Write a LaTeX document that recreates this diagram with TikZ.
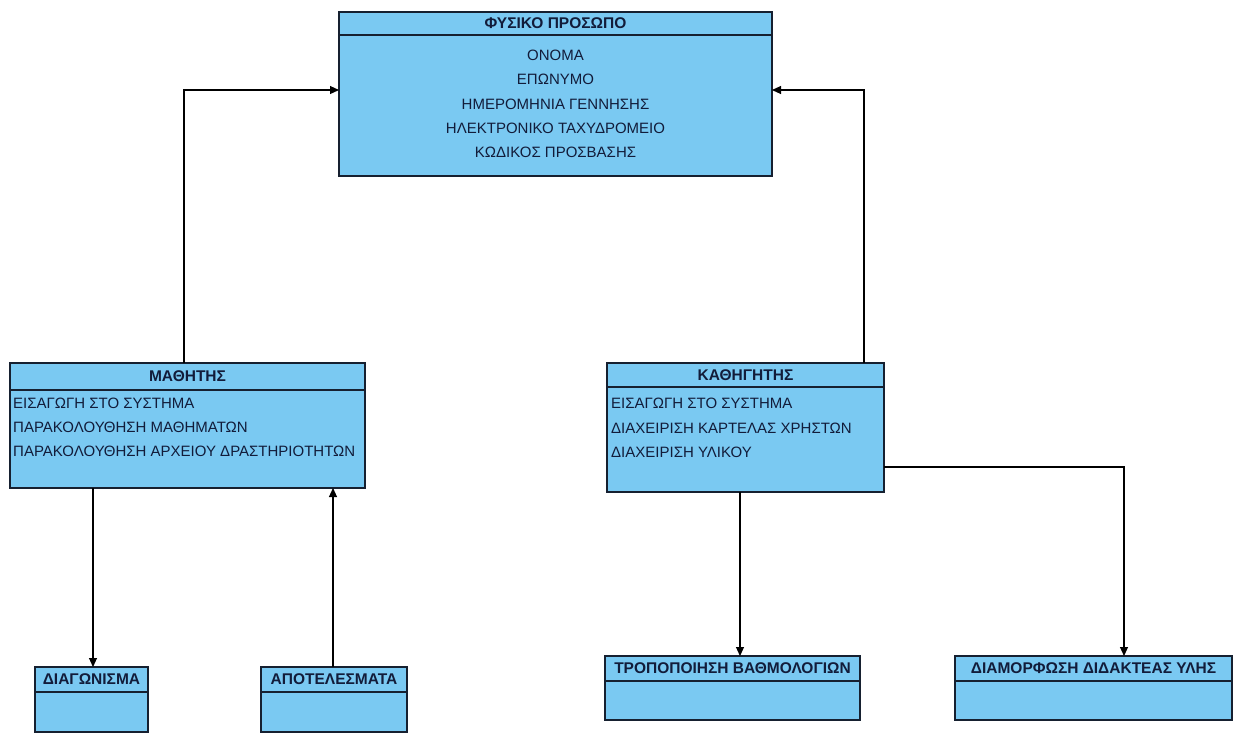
\documentclass[tikz,border=0pt]{standalone}
\usepackage{fontspec}
\setmainfont{Liberation Sans}
\usetikzlibrary{arrows.meta}
\definecolor{clsfill}{RGB}{122,201,242}
\definecolor{clsline}{RGB}{22,32,48}
\definecolor{clstext}{RGB}{18,28,58}
\tikzset{
  cls/.style={draw=clsline, fill=clsfill, line width=1.3pt, inner sep=0pt, outer sep=0pt, anchor=north west},
  divider/.style={draw=clsline, line width=1.3pt},
  hdr/.style={font=\fontsize{15.5}{17}\selectfont\bfseries, text=clstext, inner sep=0pt},
  attr/.style={font=\fontsize{15}{17}\selectfont, text=clstext, inner sep=0pt},
  arr/.style={draw=black, line width=1.1pt, -{Triangle[length=9pt,width=8pt]}},
}
% one class box: name, left, top, width, height, header height, title
\newcommand{\umlclass}[7]{%
  \node[cls, minimum width=#4pt, minimum height=#5pt] (#1) at (#2,#3) {};
  \draw[divider] ([yshift=-#6pt]#1.north west) -- ([yshift=-#6pt]#1.north east);
  \node[hdr] at ([yshift=-#6pt/2]#1.north) {#7};
}
\begin{document}
\begin{tikzpicture}[x=1pt, y=-1pt]
\useasboundingbox (0,0) rectangle (1258,740);

% person class
\umlclass{fysiko}{339}{12}{433}{164}{23}{ΦΥΣΙΚΟ ΠΡΟΣΩΠΟ}
\node[attr] (f1) at (555.5,55)  {ΟΝΟΜΑ};
\node[attr] (f2) at (555.5,79)  {ΕΠΩΝΥΜΟ};
\node[attr] (f3) at (555.5,104) {ΗΜΕΡΟΜΗΝΙΑ ΓΕΝΝΗΣΗΣ};
\node[attr] (f4) at (555.5,128) {ΗΛΕΚΤΡΟΝΙΚΟ ΤΑΧΥΔΡΟΜΕΙΟ};
\node[attr] (f5) at (555.5,152) {ΚΩΔΙΚΟΣ ΠΡΟΣΒΑΣΗΣ};

% student class
\umlclass{mathitis}{10}{363}{355}{125}{27}{ΜΑΘΗΤΗΣ}
\node[attr, anchor=west] (m1) at (13,403) {ΕΙΣΑΓΩΓΗ ΣΤΟ ΣΥΣΤΗΜΑ};
\node[attr, anchor=west] (m2) at (13,427) {ΠΑΡΑΚΟΛΟΥΘΗΣΗ ΜΑΘΗΜΑΤΩΝ};
\node[attr, anchor=west] (m3) at (13,451) {ΠΑΡΑΚΟΛΟΥΘΗΣΗ ΑΡΧΕΙΟΥ ΔΡΑΣΤΗΡΙΟΤΗΤΩΝ};

% teacher class
\umlclass{kathigitis}{607}{363}{277}{129}{24}{ΚΑΘΗΓΗΤΗΣ}
\node[attr, anchor=west] (k1) at (611,403) {ΕΙΣΑΓΩΓΗ ΣΤΟ ΣΥΣΤΗΜΑ};
\node[attr, anchor=west] (k2) at (611,428) {ΔΙΑΧΕΙΡΙΣΗ ΚΑΡΤΕΛΑΣ ΧΡΗΣΤΩΝ};
\node[attr, anchor=west] (k3) at (611,452) {ΔΙΑΧΕΙΡΙΣΗ ΥΛΙΚΟΥ};

% bottom classes
\umlclass{diag}{35}{667}{113}{65}{25}{ΔΙΑΓΩΝΙΣΜΑ}
\umlclass{apot}{261}{667}{146}{65}{25}{ΑΠΟΤΕΛΕΣΜΑΤΑ}
\umlclass{tropo}{605}{656}{255}{64}{25}{ΤΡΟΠΟΠΟΙΗΣΗ ΒΑΘΜΟΛΟΓΙΩΝ}
\umlclass{diam}{955}{656}{277}{64}{25}{ΔΙΑΜΟΡΦΩΣΗ ΔΙΔΑΚΤΕΑΣ ΥΛΗΣ}

% connectors
\draw[arr] ([xshift=-3.5pt]mathitis.north) |- ([yshift=4pt]fysiko.west);
\draw[arr] ([xshift=118.5pt]kathigitis.north) |- ([yshift=4pt]fysiko.east);
\draw[arr] ([xshift=-94.5pt]mathitis.south) -- ([xshift=-94.5pt]mathitis.south |- diag.north);
\draw[arr] ([xshift=-1pt]apot.north) -- ([xshift=-1pt]apot.north |- mathitis.south);
\draw[arr] ([xshift=-5.5pt]kathigitis.south) -- ([xshift=-5.5pt]kathigitis.south |- tropo.north);
\draw[arr] ([yshift=-39.5pt]kathigitis.east) -| ([xshift=30.5pt]diam.north);
\end{tikzpicture}
\end{document}
